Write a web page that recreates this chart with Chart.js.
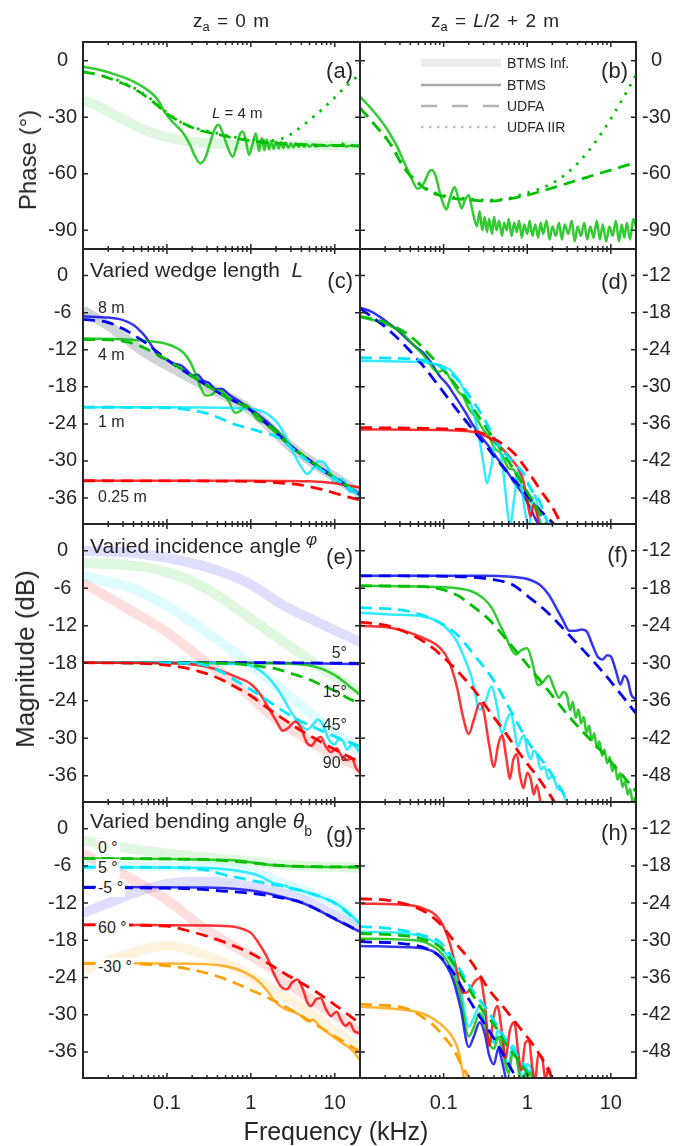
<!DOCTYPE html>
<html>
<head>
<meta charset="utf-8">
<script src="https://cdn.jsdelivr.net/npm/chart.js@4.4.1/dist/chart.umd.min.js"></script>
<style>
  body { margin: 0; background: #fff; }
  #fig { position: relative; width: 695px; height: 1146px; overflow: hidden;
         font-family: "Liberation Sans", Arial, Helvetica, sans-serif; color: #262626; }
  #fig canvas { position: absolute; left: 0; top: 0; }
  .t { position: absolute; white-space: nowrap; line-height: 1; transform: translateY(-50%); }
  .r { transform: translate(-100%, -50%); }
  .rot { transform: translate(-50%, -50%) rotate(-90deg); }
  .bg { background: #fff; padding: 1px 2px; margin-left: -2px; }
  sub { font-size: 0.68em; vertical-align: -0.35em; line-height: 0; }
</style>
</head>
<body>
<div id="fig">
  <div class="t" style="left:193px;top:20px;font-size:19px;word-spacing:2px">z<sub>a</sub> = 0 m</div>
  <div class="t" style="left:431px;top:20px;font-size:19px;word-spacing:2px">z<sub>a</sub> = <i>L</i>/2 + 2 m</div>
  <div class="t rot" style="left:28px;top:160px;font-size:24px">Phase (°)</div>
  <div class="t rot" style="left:25px;top:659px;font-size:26px">Magnitude (dB)</div>
  <div class="t" style="left:336px;top:1131px;font-size:25px;transform:translate(-50%,-50%)">Frequency (kHz)</div>

  <div class="t r" style="left:353px;top:71px;font-size:22px">(a)</div>
  <div class="t r" style="left:628px;top:71px;font-size:22px">(b)</div>
  <div class="t r" style="left:353px;top:281px;font-size:22px">(c)</div>
  <div class="t r" style="left:628px;top:282px;font-size:22px">(d)</div>
  <div class="t r" style="left:353px;top:557px;font-size:22px">(e)</div>
  <div class="t r" style="left:628px;top:555px;font-size:22px">(f)</div>
  <div class="t r" style="left:353px;top:835px;font-size:22px">(g)</div>
  <div class="t r" style="left:628px;top:833px;font-size:22px">(h)</div>

  <div class="t" style="left:212px;top:112px;font-size:15px"><i>L</i> = 4 m</div>
  <div class="t" style="left:507px;top:63px;font-size:14px">BTMS Inf.</div>
  <div class="t" style="left:507px;top:85px;font-size:14px">BTMS</div>
  <div class="t" style="left:507px;top:106px;font-size:14px">UDFA</div>
  <div class="t" style="left:507px;top:127px;font-size:14px">UDFA IIR</div>

  <div class="t" style="left:90px;top:269px;font-size:21px">Varied wedge length&nbsp; <i>L</i></div>
  <div class="t" style="left:98px;top:308px;font-size:16px">8 m</div>
  <div class="t" style="left:98px;top:355px;font-size:16px">4 m</div>
  <div class="t" style="left:98px;top:422px;font-size:16px">1 m</div>
  <div class="t" style="left:98px;top:497px;font-size:16px">0.25 m</div>

  <div class="t" style="left:90px;top:545px;font-size:21px">Varied incidence angle</div>
  <div class="t" style="left:306px;top:539px;font-size:17px"><i>φ</i></div>
  <div class="t r" style="left:347px;top:653px;font-size:16px">5°</div>
  <div class="t r" style="left:347px;top:692px;font-size:16px">15°</div>
  <div class="t r" style="left:347px;top:725px;font-size:16px">45°</div>
  <div class="t r" style="left:347px;top:763px;font-size:16px">90°</div>

  <div class="t" style="left:90px;top:820px;font-size:21px">Varied bending angle <i>θ</i><sub style="font-size:14px;vertical-align:-8px">b</sub></div>
  <div class="t bg" style="left:98px;top:848px;font-size:16px">0 °</div>
  <div class="t bg" style="left:98px;top:868px;font-size:16px">5 °</div>
  <div class="t bg" style="left:98px;top:888px;font-size:16px">-5 °</div>
  <div class="t bg" style="left:98px;top:928px;font-size:16px">60 °</div>
  <div class="t bg" style="left:98px;top:967px;font-size:16px">-30 °</div>
</div>
<script>
const INK = "#262626";
const FONT = '"Liberation Sans", Arial, Helvetica, sans-serif';

// axis ticks
const xTicks = [ 0.1, 1, 10 ];
const phaseTicks = [ -90, -60, -30, 0 ];
const magTicksL = [ -36, -30, -24, -18, -12, -6, 0 ];
const magTicksR = [ -48, -42, -36, -30, -24, -18, -12 ];
const phaseRange = [ -100, 10 ];
const magRangeL = [ -40.2, 4.3 ];
const magRangeR = [ -52.2, -7.7 ];

// (a) phase, z_a = 0
const aInf = [[0.01,-21],[0.015,-24],[0.02,-27],[0.03,-31],[0.045,-35],[0.07,-38.5],[0.1,-40.5],[0.2,-43],[0.5,-44.3],[1,-44.8],[3,-45],[20,-45]];
const aBtms = [[0.01,-3.2],[0.016,-4.9],[0.025,-7.5],[0.04,-11],[0.065,-17],[0.08,-21.5],[0.093,-27],[0.12,-33],[0.14,-36],[0.16,-39],[0.19,-45],[0.215,-50.5],[0.25,-54.5],[0.29,-51],[0.33,-43],[0.37,-36.5],[0.41,-34],[0.46,-38],[0.53,-46],[0.61,-51],[0.68,-45],[0.75,-38.5],[0.8,-37.5],[0.87,-42],[0.95,-50],[1.05,-44],[1.15,-38.5],[1.25,-48],[1.35,-41],[1.45,-47.5],[1.55,-42],[1.65,-47],[1.75,-42.5],[1.87,-46.8],[2,-43],[2.15,-46.5],[2.3,-43.3],[2.45,-46.3],[2.6,-43.6],[2.8,-46.2],[3,-43.8],[3.2,-46],[3.45,-44],[3.7,-45.8],[4,-44.2],[4.3,-45.7],[4.6,-44.3],[5,-45.6],[5.5,-44.5],[6,-45.5],[7,-44.7],[8,-45.3],[9,-44.8],[10.5,-45.2],[12,-44.9],[12.5,-44],[13.5,-45.6],[14.5,-45.3],[16,-45],[18,-45.2],[20,-45]];
const aUdfa = [[0.01,-5.8],[0.016,-7.6],[0.026,-11],[0.04,-14.6],[0.065,-21],[0.1,-28],[0.16,-33.5],[0.25,-37],[0.4,-39],[0.63,-41],[1,-42.5],[1.6,-43.5],[4,-44.5],[10,-45],[20,-45.2]];
const aIir = [[0.025,-10],[0.04,-14.3],[0.065,-20.5],[0.1,-27.5],[0.16,-33.5],[0.25,-36.5],[0.4,-38.5],[0.63,-40.5],[1,-41.8],[1.6,-42.5],[2.2,-41.8],[3,-39],[4,-35],[5,-31.5],[7,-26],[10,-19.5],[14,-13],[20,-7]];

// (b) phase, z_a = L/2 + 2
const bBtms = [[0.01,-19],[0.014,-26],[0.018,-32],[0.0226,-38.5],[0.028,-46],[0.033,-53],[0.04,-61],[0.049,-68],[0.058,-65],[0.066,-59.5],[0.072,-58],[0.08,-61],[0.09,-70],[0.1,-76.5],[0.108,-79],[0.12,-72.5],[0.135,-67],[0.15,-73],[0.164,-78.5],[0.18,-74],[0.2,-71.5],[0.215,-77],[0.23,-83],[0.25,-88],[0.27,-80],[0.29,-90],[0.31,-83],[0.33,-91],[0.35,-84],[0.38,-92],[0.4,-83],[0.43,-90],[0.46,-85],[0.5,-93],[0.53,-86],[0.57,-90],[0.6,-84],[0.65,-93],[0.7,-86],[0.75,-91],[0.8,-85],[0.86,-94],[0.92,-87],[1,-92],[1.07,-85],[1.15,-93],[1.25,-87],[1.35,-94],[1.45,-86],[1.55,-92],[1.7,-85],[1.85,-95],[2,-88],[2.2,-93],[2.4,-86],[2.6,-95],[2.8,-87],[3.1,-92],[3.4,-85],[3.7,-96],[4,-88],[4.4,-93],[4.8,-86],[5.2,-95],[5.7,-88],[6.2,-94],[6.8,-85],[7.4,-95],[8,-87],[8.8,-96],[9.6,-88],[10.5,-93],[11.5,-85],[12.5,-96],[13.5,-87],[14.5,-94],[15.5,-86],[17,-95],[18.5,-84],[20,-88]];
const bUdfa = [[0.01,-25],[0.015,-34],[0.0226,-43.7],[0.035,-58],[0.056,-67],[0.09,-71.5],[0.22,-74],[0.35,-74.5],[0.87,-72],[2.2,-67],[5.5,-61.5],[20,-54]];
const bIir = [[0.01,-25],[0.015,-34],[0.0226,-43.5],[0.035,-57.5],[0.056,-66.5],[0.09,-71],[0.22,-73.5],[0.35,-74],[0.6,-73],[0.87,-71],[1.4,-68],[2.2,-64],[3.5,-57],[5.5,-47.5],[8.7,-35],[13.5,-21],[20,-7.5]];

// (c) varied wedge length, z_a = 0
const cInf = [[0.01,-5.6],[0.02,-8.1],[0.05,-12.1],[0.1,-14.5],[0.3,-18],[1,-21.8],[3,-27.7],[10,-32.6],[20,-35.2]];
const c8Btms = [[0.01,-6.6],[0.02,-6.8],[0.03,-7.2],[0.04,-8],[0.05,-9.2],[0.06,-10.5],[0.07,-12],[0.08,-13],[0.1,-13.6],[0.12,-14.2],[0.15,-14.6],[0.18,-15.6],[0.2,-16.2],[0.23,-16],[0.27,-17],[0.32,-17.4],[0.38,-18.4],[0.45,-18.3],[0.55,-19.3],[0.7,-20.2],[1,-21.6],[1.5,-23.5],[2,-25],[3,-27.5],[5,-30],[7,-31.5],[10,-32.8],[15,-34.5],[20,-35.5]];
const c8Udfa = [[0.01,-7.1],[0.02,-7.6],[0.03,-8.6],[0.04,-9.6],[0.06,-11.2],[0.1,-13.6],[0.2,-16.3],[0.5,-19.6],[1,-21.8],[3,-27.6],[10,-32.7],[20,-35.4]];
const c4Btms = [[0.01,-10.2],[0.03,-10.3],[0.05,-10.5],[0.08,-10.8],[0.1,-11.1],[0.13,-11.7],[0.16,-12.6],[0.19,-14],[0.22,-16],[0.25,-18],[0.29,-19.4],[0.34,-19.3],[0.4,-18.5],[0.46,-18.8],[0.55,-20.4],[0.65,-22.2],[0.75,-21.9],[0.87,-20.9],[1,-21.8],[1.2,-23.3],[1.5,-23.9],[2,-25],[3,-27.6],[10,-32.7],[20,-35.4]];
const c4Udfa = [[0.01,-10.3],[0.03,-10.6],[0.05,-11.5],[0.07,-12.5],[0.1,-13.6],[0.2,-16.3],[0.5,-19.6],[1,-21.8],[3,-27.6],[10,-32.7],[20,-35.4]];
const c1Btms = [[0.01,-21.3],[0.1,-21.3],[0.5,-21.4],[1,-21.6],[1.4,-22],[1.8,-23],[2.2,-24.3],[2.7,-26.5],[3.3,-29],[4,-31],[4.7,-32.1],[5.5,-31.2],[6.5,-30],[7.5,-30.3],[8.5,-31.5],[10,-33.6],[11.5,-32.9],[13,-33.2],[15,-35],[17,-34.8],[20,-35.8]];
const c1Udfa = [[0.01,-21.3],[0.1,-21.4],[0.2,-21.8],[0.3,-22.3],[0.45,-23.2],[0.65,-24.1],[1,-24.8],[1.5,-25.5],[2,-26],[3,-27.8],[5,-30.2],[10,-32.8],[20,-35.5]];
const cQBtms = [[0.01,-33.2],[1,-33.2],[5,-33.3],[10,-33.6],[15,-34],[20,-34.3]];
const cQUdfa = [[0.01,-33.2],[1,-33.3],[2,-33.5],[4,-33.9],[7,-34.6],[10,-35.2],[15,-35.9],[20,-36.3]];

// (d) varied wedge length, z_a = L/2 + 2
const d8Btms = [[0.01,-17.2],[0.014,-17.9],[0.02,-19.3],[0.028,-20.8],[0.036,-22.2],[0.045,-23.4],[0.056,-24.4],[0.07,-26],[0.089,-28.2],[0.11,-29.6],[0.143,-31.9],[0.18,-34],[0.22,-36],[0.28,-38],[0.35,-39.7],[0.45,-41.8],[0.56,-43.5],[0.7,-45.5],[0.87,-47.2],[1.05,-49.2],[1.28,-51.6],[1.4,-52.5]];
const d8Udfa = [[0.01,-17.3],[0.02,-20.3],[0.036,-23.6],[0.056,-26.5],[0.089,-30],[0.14,-33.5],[0.22,-36.8],[0.35,-40.2],[0.56,-43.6],[0.87,-46.6],[1.3,-49.4],[2.2,-52.5]];
const d4Btms = [[0.01,-18.7],[0.02,-19.8],[0.03,-21],[0.045,-23.4],[0.06,-25.2],[0.07,-26.5],[0.085,-27.6],[0.1,-27.3],[0.12,-28.7],[0.15,-30.8],[0.17,-31.5],[0.2,-33.5],[0.25,-35.2],[0.3,-37],[0.35,-38],[0.4,-39.8],[0.5,-41],[0.6,-43.2],[0.7,-43.5],[0.8,-46],[0.9,-46.3],[1.05,-48.5],[1.2,-48.8],[1.4,-51.5],[1.5,-52.5]];
const d4Udfa = [[0.01,-18.6],[0.02,-19.6],[0.04,-21.8],[0.07,-25],[0.1,-27.3],[0.2,-32.5],[0.4,-38.5],[0.7,-43.5],[1,-47],[1.5,-51],[1.8,-52.5]];
const d1Btms = [[0.01,-25.8],[0.05,-26],[0.09,-26.5],[0.12,-27.3],[0.15,-28.8],[0.18,-30.8],[0.22,-33.5],[0.26,-37.5],[0.3,-42.5],[0.33,-45.6],[0.37,-43],[0.42,-38.8],[0.47,-40],[0.52,-44],[0.58,-50],[0.62,-52.5],[0.7,-48],[0.78,-43.5],[0.85,-46],[0.95,-50.5],[1.05,-52.5],[1.15,-48.5],[1.25,-47.5],[1.35,-50.5],[1.45,-52.5]];
const d1Udfa = [[0.01,-25.3],[0.05,-25.6],[0.1,-27],[0.15,-29],[0.2,-31.3],[0.3,-35],[0.45,-39.3],[0.65,-42],[0.9,-44],[1.1,-46.5],[1.4,-48.5],[1.8,-52.5]];
const dQBtms = [[0.01,-36.9],[0.1,-37],[0.2,-37.2],[0.3,-37.8],[0.4,-38.8],[0.5,-40],[0.6,-41.2],[0.7,-42.3],[0.8,-43.4],[0.9,-45.3],[1,-48.5],[1.1,-51],[1.2,-49],[1.3,-50.5],[1.4,-52.5]];
const dQUdfa = [[0.01,-36.6],[0.1,-36.8],[0.2,-37],[0.3,-37.6],[0.4,-38.4],[0.5,-39.2],[0.7,-40.8],[1,-43.5],[1.4,-46.5],[2,-49.5],[2.6,-52.5]];

// (e) varied incidence angle, z_a = 0
const eInf5 = [[0.01,0],[0.03,-0.2],[0.1,-1.1],[0.3,-2.6],[0.6,-4],[1,-5.4],[2.5,-8.8],[6,-11.3],[20,-14.6]];
const eInf15 = [[0.01,-1.9],[0.05,-2.5],[0.1,-3.4],[0.25,-5.5],[0.5,-8],[1,-10.9],[2.5,-14.6],[6.3,-18.4],[20,-22.6]];
const eInf45 = [[0.01,-4],[0.04,-6.1],[0.1,-8.8],[0.26,-12.5],[0.63,-16.2],[1.3,-19.5],[4,-24.8],[10,-29],[20,-32]];
const eInf90 = [[0.01,-5.1],[0.04,-9.8],[0.1,-13],[0.26,-17.3],[0.63,-21],[1.6,-25.9],[4,-29.6],[10,-32.8],[20,-34.5]];
const e5Btms = [[0.01,-17.9],[1,-17.9],[20,-18.1]];
const e5Udfa = [[0.01,-17.9],[1,-17.9],[20,-18]];
const e15Btms = [[0.01,-17.9],[2,-18],[4,-18.2],[6,-18.6],[8,-19.2],[10,-19.9],[13,-21],[16,-22],[20,-23]];
const e15Udfa = [[0.01,-17.9],[0.5,-18],[1,-18.3],[2,-18.9],[3,-19.6],[5,-20.6],[7,-21.5],[10,-22.4],[14,-23.5],[20,-24.5]];
const e45Btms = [[0.01,-17.9],[0.3,-18],[0.6,-18.1],[1,-18.4],[1.3,-19.2],[1.7,-20.6],[2.2,-22.6],[2.7,-24.7],[3.3,-26.6],[4,-28],[4.7,-28.6],[5.5,-27.8],[6.3,-27],[7.3,-28],[8.5,-30.2],[10,-31],[11,-30.2],[12.5,-30.4],[14,-31.8],[16,-31],[18,-31.5],[20,-32.3]];
const e45Udfa = [[0.01,-17.9],[0.2,-18],[0.3,-18.4],[0.45,-19.4],[0.65,-20.7],[1,-22.2],[1.6,-24],[2.6,-25.9],[4,-27.3],[6,-28.4],[10,-29.7],[20,-31.3]];
const e90Btms = [[0.01,-17.9],[0.1,-18],[0.2,-18.2],[0.35,-18.8],[0.5,-19.5],[0.7,-20.3],[1,-21.3],[1.3,-23],[1.6,-25],[2,-27.2],[2.4,-28.8],[2.8,-28.3],[3.4,-27.3],[4,-28.5],[4.6,-30.6],[5.3,-31.2],[6,-30.2],[6.8,-29.8],[7.8,-31.3],[9,-32.2],[10.5,-31.6],[12,-32.8],[14,-33.5],[16,-33.2],[18,-34.8],[20,-35.5]];
const e90Udfa = [[0.01,-17.9],[0.05,-18],[0.1,-18.3],[0.2,-19],[0.35,-20],[0.6,-21.5],[1,-23.2],[1.6,-25.2],[2.5,-27],[4,-28.8],[6.3,-30.3],[10,-31.8],[20,-33.8]];

// (f) varied incidence angle, z_a = L/2 + 2
const f5Btms = [[0.01,-16],[0.3,-16],[0.6,-16.1],[1,-16.5],[1.4,-17.4],[1.8,-19],[2.2,-21],[2.7,-23.2],[3.2,-24.8],[3.7,-24.8],[4.5,-24.6],[5.2,-25],[6,-27],[7,-29],[8,-29.4],[9,-28.7],[10,-28.9],[11.5,-31.2],[13,-33.4],[14.5,-32],[16,-32.8],[17.5,-35],[20,-35.8]];
const f5Udfa = [[0.01,-16],[0.14,-16.1],[0.35,-16.5],[0.66,-17.4],[1,-19.2],[1.7,-21.7],[3.4,-25.9],[7.8,-31.2],[20,-38]];
const f15Btms = [[0.01,-17.6],[0.09,-17.8],[0.22,-18.5],[0.3,-19.6],[0.38,-21.2],[0.46,-23.5],[0.56,-25.9],[0.65,-27.8],[0.74,-28.6],[0.85,-27.9],[1,-27.6],[1.15,-29.8],[1.35,-33.5],[1.55,-33],[1.8,-32],[2.1,-34],[2.4,-35.5],[2.7,-34.6],[3,-35.2],[3.25,-37.5],[3.5,-36.2],[3.8,-38.7],[4.1,-37.4],[4.4,-39.6],[4.75,-38.6],[5.1,-41.1],[5.5,-40],[5.9,-42.3],[6.35,-41.2],[6.8,-43.6],[7.3,-42.5],[7.85,-44.8],[8.4,-43.8],[9,-46],[9.7,-45],[10.4,-47.3],[11.2,-46.3],[12,-48.6],[12.9,-47.6],[13.8,-49.8],[14.8,-48.9],[15.9,-51],[17,-50.1],[18.3,-52.3],[19.5,-51.5],[20,-53]];
const f15Udfa = [[0.01,-17.6],[0.05,-17.7],[0.09,-18.1],[0.15,-19.2],[0.22,-20.8],[0.35,-23],[0.66,-27.3],[1.4,-32.6],[3.4,-39],[8.8,-44.9],[20,-50.5]];
const f45Btms = [[0.01,-21.9],[0.023,-22.2],[0.056,-22.5],[0.09,-23.5],[0.14,-26.2],[0.18,-29.4],[0.22,-32.6],[0.27,-37.4],[0.32,-36],[0.37,-33.7],[0.43,-36.5],[0.5,-41.2],[0.57,-39],[0.64,-38],[0.71,-41],[0.77,-43.3],[0.85,-42],[0.92,-41.5],[1,-44],[1.1,-45.3],[1.2,-44],[1.3,-44.5],[1.45,-47],[1.6,-46.5],[1.8,-48.5],[2,-48],[2.3,-50],[2.6,-50.5],[3,-52.5]];
const f45Udfa = [[0.01,-21.1],[0.036,-21.6],[0.09,-23.5],[0.15,-25.6],[0.22,-28.3],[0.39,-32.6],[0.66,-38],[1.05,-42.8],[1.7,-46.5],[2.5,-50],[3.2,-52.5]];
const f90Btms = [[0.01,-24],[0.023,-24.3],[0.056,-25.9],[0.09,-27.5],[0.115,-29.6],[0.145,-33.9],[0.17,-38.5],[0.2,-41.3],[0.23,-39],[0.27,-36.4],[0.3,-37.5],[0.35,-43],[0.4,-46.6],[0.45,-43],[0.5,-41.5],[0.56,-45],[0.62,-48.5],[0.68,-45.5],[0.75,-44.5],[0.82,-48],[0.9,-50],[1,-47.5],[1.1,-48.5],[1.2,-51],[1.3,-49.5],[1.45,-52.5]];
const f90Udfa = [[0.01,-23.4],[0.023,-24.1],[0.056,-26.4],[0.09,-28.5],[0.22,-33.9],[0.35,-37.6],[0.56,-41.3],[0.87,-45],[1.4,-48.6],[2.2,-52.5]];

// (g) varied bending angle, z_a = 0
const gInf0 = [[0.01,-1.9],[0.04,-3.3],[0.1,-4],[0.26,-4.6],[1,-5.3],[3,-5.9],[20,-6.3]];
const gInf5 = [[0.01,-6],[0.3,-6.2],[1,-7],[3,-9.3],[10,-12],[20,-15]];
const gInfM5 = [[0.01,-13.6],[0.02,-12],[0.04,-10.4],[0.1,-8.9],[0.26,-8.5],[1,-9.3],[4,-11.4],[20,-16.1]];
const gInf60 = [[0.01,-4],[0.04,-8.3],[0.1,-11.5],[0.26,-15.8],[0.63,-19],[1.6,-22.2],[4,-26.5],[10,-30],[20,-32.9]];
const gInfM30 = [[0.01,-22.8],[0.03,-20.5],[0.1,-18.8],[0.26,-20.2],[0.63,-22.3],[1.6,-25.5],[4,-28.7],[10,-32.5],[20,-35.5]];
const g0Btms = [[0.01,-4.8],[0.1,-4.9],[0.3,-5],[0.63,-5.1],[1,-5.4],[1.6,-5.8],[4,-6.1],[20,-6.2]];
const g0Udfa = [[0.01,-4.8],[0.3,-5],[1,-5.5],[2,-5.9],[5,-6.1],[20,-6.2]];
const g5Btms = [[0.01,-6.2],[0.26,-6.3],[0.63,-6.7],[1,-7.2],[1.3,-7.7],[1.8,-8.7],[2.2,-9],[2.6,-9.2],[3,-9.7],[4,-10],[6.3,-10.8],[9.7,-11.9],[13,-13],[20,-15.3]];
const g5Udfa = [[0.01,-6.2],[0.15,-6.3],[0.3,-6.7],[0.5,-7.5],[1,-8.3],[1.6,-8.9],[2.5,-9.3],[4,-10],[10,-12],[20,-15.3]];
const gM5Btms = [[0.01,-9.4],[0.3,-9.5],[0.63,-9.7],[1.3,-10.2],[2.5,-11.1],[4,-11.9],[6.3,-13.1],[10,-14.6],[20,-16.6]];
const gM5Udfa = [[0.01,-9.5],[0.2,-9.7],[0.5,-10.1],[1,-10.4],[2,-11],[4,-11.9],[10,-14.5],[20,-16.6]];
const g60Btms = [[0.01,-15.5],[0.3,-15.6],[0.63,-15.8],[0.85,-16.3],[1,-16.8],[1.15,-17.8],[1.3,-18.9],[1.6,-21],[1.9,-23.5],[2.3,-25.5],[2.7,-25.9],[3.1,-24.8],[3.6,-24.3],[4.2,-26],[4.7,-28],[5.2,-28.6],[6,-27.5],[6.8,-27.3],[7.8,-29],[9,-30.2],[10.5,-29.5],[12,-31],[13.5,-31.8],[15,-31.3],[17,-32.6],[20,-33]];
const g60Udfa = [[0.01,-15.5],[0.1,-15.7],[0.16,-16.3],[0.4,-17.9],[1,-20.1],[2.5,-23.3],[6.3,-26.5],[20,-31.4]];
const gM30Btms = [[0.01,-21.7],[0.26,-21.8],[0.63,-22.5],[1,-23.7],[1.3,-24.9],[1.6,-26.3],[2,-28.1],[2.7,-29.2],[3.3,-29.6],[4,-30.2],[4.7,-31],[5.5,-30.8],[6.5,-31.8],[8,-32.8],[9.7,-33.6],[12,-34.5],[15.5,-35.5],[20,-37.3]];
const gM30Udfa = [[0.01,-21.7],[0.065,-21.9],[0.16,-22.5],[0.4,-23.8],[1,-26],[2.5,-28.6],[6.3,-31.8],[20,-36]];

// (h) varied bending angle, z_a = L/2 + 2
const h60Btms = [[0.01,-24.1],[0.036,-24.3],[0.056,-24.8],[0.09,-26.7],[0.115,-29.9],[0.14,-34.2],[0.17,-38.5],[0.2,-38.2],[0.24,-36.5],[0.27,-36.1],[0.31,-40],[0.35,-47],[0.4,-42],[0.44,-40.6],[0.5,-45],[0.55,-49],[0.62,-44.5],[0.7,-43.2],[0.78,-48],[0.85,-51],[0.95,-46.5],[1.05,-46.2],[1.15,-50.5],[1.25,-52.5],[1.35,-48.5],[1.5,-48.8],[1.65,-52.5],[1.8,-50.5],[2,-53]];
const h60Udfa = [[0.01,-23.3],[0.023,-23.6],[0.056,-25.2],[0.09,-27.3],[0.14,-30.5],[0.22,-33.7],[0.35,-38],[0.5,-40.5],[0.7,-43],[1,-45.6],[1.3,-47.7],[1.8,-51],[2.1,-53]];
const h5Btms = [[0.01,-28.6],[0.036,-28.9],[0.056,-29.4],[0.09,-31],[0.13,-34.2],[0.16,-38],[0.2,-43.9],[0.23,-42.5],[0.27,-40.6],[0.31,-42.5],[0.35,-45.4],[0.4,-46.5],[0.45,-44.5],[0.5,-46],[0.55,-49],[0.6,-50.5],[0.66,-47],[0.72,-47.5],[0.8,-50.5],[0.9,-52],[1,-50],[1.1,-50.5],[1.2,-52.5],[1.35,-53]];
const h5Udfa = [[0.01,-27.8],[0.023,-28.1],[0.056,-29.2],[0.09,-30.3],[0.14,-33.7],[0.22,-38],[0.33,-41.2],[0.42,-43.4],[0.56,-46.1],[0.8,-49],[1.2,-52.5]];
const h0Btms = [[0.01,-29.7],[0.036,-29.9],[0.056,-30.2],[0.09,-31.8],[0.13,-35.3],[0.16,-39.5],[0.2,-45.5],[0.23,-44],[0.27,-41.7],[0.31,-43.5],[0.35,-46.5],[0.4,-47.5],[0.45,-45.5],[0.5,-47.5],[0.55,-50],[0.6,-51.5],[0.66,-48.5],[0.73,-48.5],[0.8,-51.5],[0.9,-52.5],[1,-51],[1.1,-51.5],[1.25,-53]];
const h0Udfa = [[0.01,-28.9],[0.036,-29.3],[0.056,-29.8],[0.09,-31],[0.14,-34.3],[0.22,-38.7],[0.3,-41.5],[0.42,-44],[0.56,-46.8],[0.8,-49.5],[1.2,-53]];
const hM5Btms = [[0.01,-30.9],[0.036,-31.1],[0.056,-31.3],[0.09,-32.6],[0.13,-36.4],[0.16,-41],[0.2,-47.2],[0.23,-45.5],[0.27,-43.2],[0.31,-45],[0.35,-48.5],[0.4,-50],[0.45,-47.5],[0.5,-49.5],[0.55,-52],[0.6,-53]];
const hM5Udfa = [[0.01,-30.2],[0.036,-30.6],[0.056,-31.1],[0.09,-32.6],[0.13,-35.2],[0.2,-39.5],[0.27,-42.3],[0.35,-44.6],[0.45,-47],[0.6,-50],[0.8,-53]];
const hM30Btms = [[0.01,-40.7],[0.023,-41],[0.056,-41.8],[0.09,-43.4],[0.11,-44.5],[0.13,-45.8],[0.15,-47.7],[0.165,-50.5],[0.18,-53]];
const hM30Udfa = [[0.01,-40.3],[0.036,-41],[0.056,-42.4],[0.08,-44],[0.1,-45.5],[0.13,-47.5],[0.17,-50.5],[0.22,-53]];

const GREEN = [ 0, 190, 0 ], BLUE = [ 0, 0, 240 ], CYAN = [ 0, 230, 255 ];
const RED = [ 255, 0, 0 ], ORANGE = [ 255, 160, 0 ];
const rgba = ( c, a ) => `rgba(${c[0]},${c[1]},${c[2]},${a})`;
const xy = pts => pts.map( ( [ x, y ] ) => ( { x, y } ) );

const band = ( p, c, a = 0.13 ) => ( { data: xy( p ), borderColor: rgba( c, a ), borderWidth: 10, order: 3 } );
const solid = ( p, c ) => ( { data: xy( p ), borderColor: rgba( c, 0.8 ), borderWidth: 2.5, order: 2 } );
const dashed = ( p, c ) => ( { data: xy( p ), borderColor: rgba( c, 1 ), borderWidth: 2.8, borderDash: [ 12, 7 ], order: 1 } );
const dotted = ( p, c ) => ( { data: xy( p ), borderColor: rgba( c, 1 ), borderWidth: 2.8, borderDash: [ 2.5, 7 ], order: 0 } );

const colLeft = [ 83, 360 ], colRight = [ 360, 636 ];
const rowTop = [ 42, 249, 524, 802 ], rowBottom = [ 249, 524, 802, 1078 ];

const panels = [
  { col: 0, row: 0, range: phaseRange, ticks: phaseTicks, sets: [
    band( aInf, GREEN ), solid( aBtms, GREEN ), dashed( aUdfa, GREEN ), dotted( aIir, GREEN ) ] },
  { col: 1, row: 0, range: phaseRange, ticks: phaseTicks, legend: true, sets: [
    solid( bBtms, GREEN ), dashed( bUdfa, GREEN ), dotted( bIir, GREEN ) ] },
  { col: 0, row: 1, range: magRangeL, ticks: magTicksL, sets: [
    band( cInf, RED, 0.08 ), band( cInf, CYAN, 0.08 ), band( cInf, GREEN, 0.08 ), band( cInf, BLUE, 0.08 ),
    solid( cQBtms, RED ), solid( c1Btms, CYAN ), solid( c4Btms, GREEN ), solid( c8Btms, BLUE ),
    dashed( cQUdfa, RED ), dashed( c1Udfa, CYAN ), dashed( c4Udfa, GREEN ), dashed( c8Udfa, BLUE ) ] },
  { col: 1, row: 1, range: magRangeR, ticks: magTicksR, sets: [
    solid( dQBtms, RED ), solid( d1Btms, CYAN ), solid( d4Btms, GREEN ), solid( d8Btms, BLUE ),
    dashed( dQUdfa, RED ), dashed( d1Udfa, CYAN ), dashed( d4Udfa, GREEN ), dashed( d8Udfa, BLUE ) ] },
  { col: 0, row: 2, range: magRangeL, ticks: magTicksL, sets: [
    band( eInf90, RED ), band( eInf45, CYAN ), band( eInf15, GREEN ), band( eInf5, BLUE ),
    solid( e90Btms, RED ), solid( e45Btms, CYAN ), solid( e15Btms, GREEN ), solid( e5Btms, BLUE ),
    dashed( e90Udfa, RED ), dashed( e45Udfa, CYAN ), dashed( e15Udfa, GREEN ), dashed( e5Udfa, BLUE ) ] },
  { col: 1, row: 2, range: magRangeR, ticks: magTicksR, sets: [
    solid( f90Btms, RED ), solid( f45Btms, CYAN ), solid( f15Btms, GREEN ), solid( f5Btms, BLUE ),
    dashed( f90Udfa, RED ), dashed( f45Udfa, CYAN ), dashed( f15Udfa, GREEN ), dashed( f5Udfa, BLUE ) ] },
  { col: 0, row: 3, range: magRangeL, ticks: magTicksL, sets: [
    band( gInf60, RED ), band( gInfM30, ORANGE ), band( gInfM5, BLUE ), band( gInf5, CYAN ), band( gInf0, GREEN ),
    solid( g60Btms, RED ), solid( gM30Btms, ORANGE ), solid( gM5Btms, BLUE ), solid( g5Btms, CYAN ), solid( g0Btms, GREEN ),
    dashed( g60Udfa, RED ), dashed( gM30Udfa, ORANGE ), dashed( gM5Udfa, BLUE ), dashed( g5Udfa, CYAN ), dashed( g0Udfa, GREEN ) ] },
  { col: 1, row: 3, range: magRangeR, ticks: magTicksR, sets: [
    solid( hM30Btms, ORANGE ), solid( h60Btms, RED ), solid( hM5Btms, BLUE ), solid( h0Btms, GREEN ), solid( h5Btms, CYAN ),
    dashed( hM30Udfa, ORANGE ), dashed( h60Udfa, RED ), dashed( hM5Udfa, BLUE ), dashed( h0Udfa, GREEN ), dashed( h5Udfa, CYAN ) ] },
];

// minor x ticks: 2..9 in every decade inside the range
const xMinor = [];
for ( const dec of [ 0.01, 0.1, 1, 10 ] ) for ( let m = 2; m <= 9; m++ ) if ( dec * m <= 20 ) xMinor.push( dec * m );

// box + inward ticks on all four sides
const frame = {
  id: "frame",
  afterDraw ( chart ) {
    const { ctx, chartArea: a, scales: { x, y } } = chart;
    ctx.save();
    ctx.strokeStyle = INK;
    ctx.lineWidth = 1.5;
    ctx.beginPath();
    const xt = ( v, len ) => {
      const p = x.getPixelForValue( v );
      ctx.moveTo( p, a.top ); ctx.lineTo( p, a.top + len );
      ctx.moveTo( p, a.bottom ); ctx.lineTo( p, a.bottom - len );
    };
    xMinor.forEach( v => xt( v, 3 ) );
    xTicks.forEach( v => xt( v, 5 ) );
    y.ticks.forEach( t => {
      const p = y.getPixelForValue( t.value );
      ctx.moveTo( a.left, p ); ctx.lineTo( a.left + 5, p );
      ctx.moveTo( a.right, p ); ctx.lineTo( a.right - 5, p );
    } );
    ctx.stroke();
    ctx.lineWidth = 2;
    ctx.strokeRect( a.left, a.top, a.right - a.left, a.bottom - a.top );
    ctx.restore();
  }
};

// line samples of the legend in (b)
const legendSamples = {
  id: "legendSamples",
  afterDraw ( chart ) {
    const ctx = chart.ctx;
    const rows = [
      { y: 63, color: "#ececec", width: 8, dash: [] },
      { y: 85, color: "#a8a8a8", width: 2.5, dash: [] },
      { y: 106, color: "#b4b4b4", width: 2.5, dash: [ 16, 15 ] },
      { y: 127, color: "#bdbdbd", width: 2.5, dash: [ 2.5, 5.5 ] },
    ];
    ctx.save();
    rows.forEach( r => {
      ctx.strokeStyle = r.color; ctx.lineWidth = r.width; ctx.setLineDash( r.dash );
      ctx.beginPath(); ctx.moveTo( 421, r.y ); ctx.lineTo( 501, r.y ); ctx.stroke();
    } );
    ctx.restore();
  }
};

const fig = document.getElementById( "fig" );
const firstLabel = fig.firstElementChild;
const W = 695, H = 1146;

panels.forEach( p => {
  const cv = document.createElement( "canvas" );
  cv.width = W; cv.height = H;
  fig.insertBefore( cv, firstLabel );
  const left = colLeft[ p.col ], right = colRight[ p.col ];
  const top = rowTop[ p.row ], bottom = rowBottom[ p.row ];
  const last = p.row === 3;
  new Chart( cv, {
    type: "line",
    data: { datasets: p.sets.map( s => ( { ...s, clip: 0 } ) ) },
    options: {
      responsive: false,
      devicePixelRatio: 1,
      animation: false,
      events: [],
      layout: { padding: {
        left: p.col ? left : 0,
        right: p.col ? 0 : W - right,
        top: top,
        bottom: last ? 0 : H - bottom } },
      elements: {
        point: { radius: 0 },
        line: { fill: false, cubicInterpolationMode: "monotone" }
      },
      plugins: { legend: { display: false }, tooltip: { enabled: false } },
      scales: {
        x: {
          type: "logarithmic", min: 0.01, max: 20,
          display: last,
          grid: { display: false, drawTicks: false },
          border: { display: false },
          ticks: { font: { family: FONT, size: 20 }, color: INK, padding: 13,
                   maxRotation: 0, autoSkip: false, callback: v => String( v ) },
          afterBuildTicks: s => { s.ticks = xTicks.map( v => ( { value: v } ) ); },
          afterFit: s => { s.height = last ? H - bottom : 0; }
        },
        y: {
          min: p.range[ 0 ], max: p.range[ 1 ],
          position: p.col ? "right" : "left",
          grid: { display: false, drawTicks: false },
          border: { display: false },
          ticks: { font: { family: FONT, size: 20 }, color: INK, padding: 6,
                   crossAlign: "center", callback: v => String( v ) },
          afterBuildTicks: s => { s.ticks = p.ticks.map( v => ( { value: v } ) ); },
          afterFit: s => { s.width = p.col ? W - right : left; }
        }
      }
    },
    plugins: p.legend ? [ frame, legendSamples ] : [ frame ]
  } );
} );
</script>
</body>
</html>
